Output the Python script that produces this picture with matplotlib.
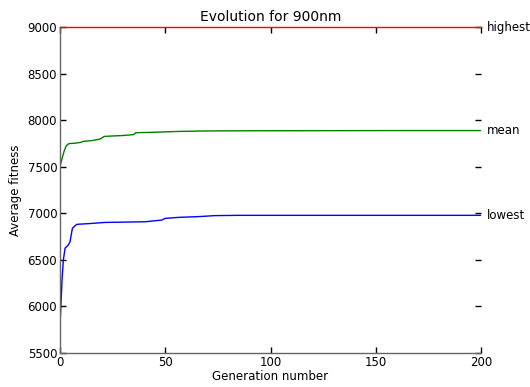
import matplotlib
matplotlib.use("Agg")
import matplotlib.pyplot as plt

# generations / fitness
gen_high = [0, 200]
highest = [9000, 9000]

gen_mean = [0, 1, 2, 3, 4, 5, 7, 10, 11, 15, 19, 21, 25, 30, 35, 36, 45, 55, 69, 90, 120, 160, 200]
mean = [7500, 7590, 7670, 7725, 7745, 7750, 7752, 7762, 7772, 7780, 7797, 7825, 7830, 7835, 7845, 7865, 7870, 7878, 7884, 7886, 7887, 7888, 7888]

gen_low = [0, 1, 1.6, 2.4, 3.9, 4.75, 5.9, 7.9, 15, 21.4, 30, 40.4, 48.3, 49.9, 56.2, 66.5, 73.6, 85, 120, 160, 200]
lowest = [5790, 6300, 6500, 6625, 6658, 6694, 6840, 6881, 6891, 6902, 6905, 6909, 6927, 6945, 6956, 6965, 6975, 6978, 6978, 6978, 6978]

labels = ["highest", "mean", "lowest"]

fig = plt.figure(figsize=(5.3, 3.87), dpi=100)
ax = fig.add_axes([60/530, 1 - 353/387, 421/530, 326/387])

ax.plot(gen_high, highest, color="red", lw=1, clip_on=False, zorder=3)
ax.plot(gen_mean, mean, color="green", lw=1)
ax.plot(gen_low, lowest, color="blue", lw=1)

# names at the end of each line
for y, lab in zip([highest[-1], mean[-1], lowest[-1]], labels):
    ax.text(203, y, lab, va="center", ha="left", fontsize=8.5)

ax.set_xlim(0, 200)
ax.set_ylim(5500, 9000)
ax.set_xticks([0, 50, 100, 150, 200])
ax.set_yticks(range(5500, 9001, 500))

ax.spines["top"].set_visible(False)
ax.spines["right"].set_visible(False)
for s in ["left", "bottom"]:
    ax.spines[s].set_color("#666666")
    ax.spines[s].set_linewidth(1)

ax.tick_params(direction="in", length=4, width=1, top=True, right=True, labelsize=8.5, pad=2)

ax.set_title("Evolution for 900nm", fontsize=10, pad=4)
ax.set_xlabel("Generation number", fontsize=8.5, labelpad=1)
ax.set_ylabel("Average fitness", fontsize=8.5)

fig.savefig("out.png", dpi=100)
